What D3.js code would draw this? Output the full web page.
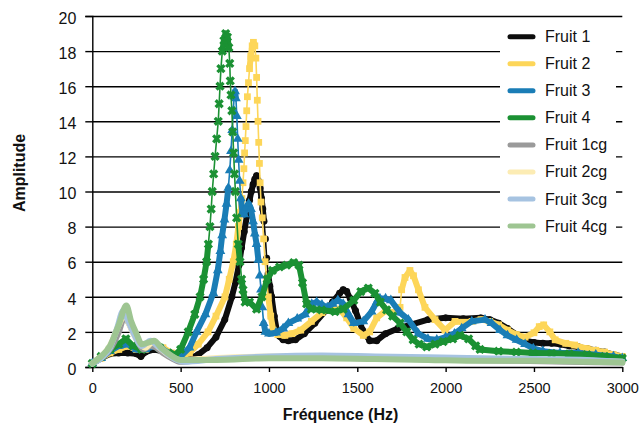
<!DOCTYPE html>
<html>
<head>
<meta charset="utf-8">
<script src="https://cdn.jsdelivr.net/npm/d3@7"></script>
<style>
  html, body { margin: 0; padding: 0; background: #fff; }
  svg { display: block; }
  text { font-family: "Liberation Sans", Arial, sans-serif; fill: #111; }
</style>
</head>
<body>
<svg id="chart" width="642" height="428"></svg>
<script>
// Frequency response amplitudes (Hz → amplitude)
const fruit1Hz  = [0,50,100,150,200,250,275,300,350,400,450,500,550,600,650,700,750,790,810,830,845,860,875,890,900,910,920,930,940,950,958,965,972,980,987,995,1005,1015,1030,1044,1060,1080,1110,1150,1200,1260,1320,1360,1400,1420,1440,1460,1490,1530,1570,1610,1660,1730,1800,1900,2000,2100,2200,2250,2300,2350,2400,2450,2500,2550,2600,2650,2700,2750,2800,2850,2900,2950,3000];
const fruit1Amp = [0.2,0.5,0.75,0.8,0.8,0.75,0.6,0.85,1.0,0.9,0.6,0.5,0.5,0.7,1.1,1.7,2.7,4.0,4.8,5.8,6.8,7.7,8.6,9.5,10.0,10.4,10.7,10.9,10.6,10.2,9.6,9.0,8.3,7.3,6.2,5.3,4.6,4.0,2.9,2.1,1.75,1.55,1.5,1.55,1.9,2.5,3.2,3.7,4.2,4.4,4.3,3.9,3.2,2.1,1.5,1.5,1.9,2.2,2.4,2.7,2.8,2.75,2.8,2.7,2.5,2.2,1.85,1.5,1.4,1.35,1.35,1.3,1.2,1.15,1.05,0.95,0.85,0.7,0.6];

const fruit2Hz  = [0,50,100,150,200,250,300,350,400,450,500,550,600,655,700,751,775,798,815,827,838,847,853,858,862,866,870,874,878,884,890,897,905,912,920,926,930,934,938,942,946,950,955,962,970,978,987,996,1010,1024,1050,1090,1130,1180,1240,1300,1350,1400,1440,1480,1534,1570,1610,1660,1700,1742,1751,1770,1798,1818,1846,1883,1940,1996,2053,2100,2150,2200,2250,2300,2350,2400,2450,2500,2530,2555,2590,2620,2680,2730,2800,2850,2900,2950,3000];
const fruit2Amp = [0.2,0.5,0.8,1.0,1.2,1.0,1.0,1.3,1.1,0.8,0.6,0.8,1.3,2.0,2.9,4.0,5.0,6.0,7.0,8.0,8.8,9.6,10.5,11.3,12.2,12.9,13.7,14.6,15.4,16.2,17.0,17.7,18.3,18.5,18.3,17.6,16.5,15.2,14.0,12.8,11.6,10.5,9.4,8.5,7.3,6.0,5.0,4.0,2.9,2.1,1.85,1.8,1.9,2.1,2.6,3.1,3.4,3.3,2.8,2.2,1.8,2.0,2.8,3.2,3.1,3.4,4.4,5.1,5.5,5.2,4.4,3.4,2.7,2.1,2.6,2.55,2.6,2.7,2.6,2.4,2.1,1.85,1.7,1.95,2.3,2.4,2.0,1.55,1.35,1.25,1.05,0.95,0.85,0.7,0.6];

const fruit3Hz  = [0,50,100,150,200,250,300,350,400,450,500,550,590,640,685,710,725,735,748,760,770,778,785,792,798,803,808,813,818,823,828,834,841,850,860,872,885,898,910,920,930,940,948,955,962,970,980,1000,1040,1080,1110,1160,1204,1242,1270,1300,1330,1360,1390,1420,1450,1480,1534,1581,1610,1628,1660,1690,1742,1789,1846,1900,1950,2000,2050,2091,2148,2223,2260,2308,2350,2402,2450,2496,2550,2647,2750,2850,2950,3000];
const fruit3Amp = [0.2,0.5,0.9,1.2,1.3,1.0,1.0,1.2,1.0,0.7,0.6,1.1,2.0,3.0,4.2,5.5,6.6,7.5,8.4,9.3,10.2,11.2,12.3,13.5,14.6,15.4,15.7,15.3,14.3,13.0,11.8,10.6,9.6,8.8,8.7,9.1,9.3,9.0,8.3,7.6,7.0,6.1,5.2,4.4,3.4,2.5,2.0,1.9,1.95,2.2,2.5,2.75,3.0,3.6,3.7,3.55,3.4,3.6,3.8,3.6,3.0,2.5,2.6,3.15,3.7,3.9,3.9,3.8,3.1,2.7,1.9,1.6,1.55,1.7,1.9,2.2,2.6,2.7,2.5,2.1,1.8,1.54,1.3,1.06,0.9,0.8,0.8,0.7,0.6,0.5];

const fruit4Hz  = [0,50,100,150,190,230,280,330,380,430,470,500,543,580,610,630,647,657,666,673,679,687,695,704,713,718,723,728,736,745,755,765,773,778,781,785,790,795,800,805,810,817,826,836,845,853,865,890,930,960,990,1020,1060,1100,1140,1170,1190,1213,1240,1298,1374,1420,1480,1520,1562,1600,1630,1666,1700,1742,1780,1816,1850,1893,1940,1986,2040,2081,2130,2170,2195,2300,2400,2495,2600,2700,2800,2900,3000];
const fruit4Amp = [0.2,0.6,1.0,1.3,1.6,1.2,1.0,1.3,1.1,0.8,0.7,1.0,2.0,3.0,4.0,5.0,6.0,7.0,8.0,9.0,10.0,11.0,12.0,13.0,14.0,15.0,16.0,17.0,18.0,18.6,19.0,18.8,18.2,17.3,16.3,15.5,14.6,13.4,12.2,11.0,10.0,8.5,7.0,6.0,5.0,4.4,3.7,3.7,3.3,4.0,5.0,5.5,5.7,5.8,5.95,5.8,4.8,3.6,3.3,3.25,3.15,3.3,3.8,4.3,4.5,4.2,3.7,3.25,2.9,2.5,2.0,1.55,1.3,1.15,1.3,1.45,1.6,1.8,1.6,1.2,1.0,0.9,0.85,0.8,0.78,0.75,0.7,0.6,0.5];

const fruit1cgHz  = [0,50,100,150,180,200,230,260,290,330,360,400,450,500,600,800,1000,1200,1500,1800,2100,2400,2700,3000];
const fruit1cgAmp = [0.2,0.5,1.0,2.0,2.8,2.6,2.0,1.4,1.0,1.2,1.1,0.8,0.5,0.3,0.4,0.5,0.55,0.55,0.5,0.45,0.4,0.35,0.3,0.25];

const fruit2cgHz  = [0,50,100,150,185,210,250,300,340,380,430,500,600,800,1000,1300,1600,1900,2200,2500,2800,3000];
const fruit2cgAmp = [0.2,0.6,1.2,2.4,3.0,2.4,1.6,1.1,1.4,1.1,0.7,0.4,0.45,0.55,0.6,0.6,0.55,0.5,0.45,0.4,0.35,0.3];

const fruit3cgHz  = [0,50,100,140,175,200,240,280,330,370,420,480,520,700,1000,1300,1600,1900,2200,2500,2800,3000];
const fruit3cgAmp = [0.2,0.5,1.1,2.2,3.2,2.7,1.8,1.2,1.5,1.2,0.8,0.4,0.3,0.45,0.6,0.65,0.6,0.55,0.5,0.45,0.4,0.3];

const fruit4cgHz  = [0,50,100,150,193,220,250,280,320,350,390,440,500,700,1000,1300,1600,1900,2200,2500,2800,3000];
const fruit4cgAmp = [0.2,0.6,1.2,2.4,3.5,2.6,1.9,1.3,1.4,1.5,1.1,0.7,0.4,0.4,0.5,0.5,0.45,0.4,0.35,0.35,0.3,0.25];

const seriesNames  = ["Fruit 1","Fruit 2","Fruit 3","Fruit 4","Fruit 1cg","Fruit 2cg","Fruit 3cg","Fruit 4cg"];
const seriesColors = ["#0d0d0d","#fdd659","#1a7db6","#1b9133","#9a9a9a","#fcecb4","#a6c3e1","#9ec592"];
const seriesMarkers = ["circle","square","triangle","x",null,null,null,null];

const xTicks = [0,500,1000,1500,2000,2500,3000];
const yTicks = [0,2,4,6,8,10,12,14,16,18,20];

const series = [
  [fruit1Hz, fruit1Amp], [fruit2Hz, fruit2Amp], [fruit3Hz, fruit3Amp], [fruit4Hz, fruit4Amp],
  [fruit1cgHz, fruit1cgAmp], [fruit2cgHz, fruit2cgAmp], [fruit3cgHz, fruit3cgAmp], [fruit4cgHz, fruit4cgAmp]
].map(([hz, amp], i) => ({
  name: seriesNames[i], color: seriesColors[i], marker: seriesMarkers[i],
  points: hz.map((f, k) => ({ f, a: amp[k] }))
}));

const svg = d3.select("#chart");
const plotLeft = 92.3, plotRight = 622.3, plotTop = 16, plotBottom = 367;

const x = d3.scaleLinear().domain([0, 3000]).range([plotLeft, plotRight]);
const y = d3.scaleLinear().domain([0, 20]).range([plotBottom, plotTop]);

// horizontal grid
svg.append("g")
  .attr("transform", `translate(${plotLeft},0)`)
  .call(d3.axisLeft(y).tickValues(yTicks.filter(v => v > 0)).tickSize(-(plotRight - plotLeft)).tickFormat(""))
  .call(g => g.select(".domain").remove())
  .call(g => g.selectAll("line").attr("stroke", "#000").attr("stroke-width", 1.4));

// legend background interrupts the grid
svg.append("rect").attr("x", 500).attr("y", 21).attr("width", 116).attr("height", 221).attr("fill", "#fff");

// y axis
svg.append("g")
  .attr("transform", `translate(${plotLeft},0)`)
  .call(d3.axisLeft(y).tickValues(yTicks).tickSize(7).tickPadding(9))
  .call(g => g.select(".domain").attr("stroke", "#000").attr("stroke-width", 1.4))
  .call(g => g.selectAll("line").attr("stroke", "#000").attr("stroke-width", 1.4))
  .call(g => g.selectAll("text").attr("font-size", 16).attr("fill", "#111").attr("dy", "0.45em")
    .style("font-family", '"Liberation Sans", Arial, sans-serif'));

// x axis
svg.append("g")
  .attr("transform", `translate(0,${plotBottom})`)
  .call(d3.axisBottom(x).tickValues(xTicks).tickFormat(d3.format("d")).tickSize(5).tickPadding(11).tickSizeOuter(0))
  .call(g => g.select(".domain").attr("stroke", "#000").attr("stroke-width", 1.4))
  .call(g => g.selectAll("line").attr("stroke", "#000").attr("stroke-width", 1.4))
  .call(g => g.selectAll("text").attr("font-size", 14.5).attr("fill", "#111")
    .style("font-family", '"Liberation Sans", Arial, sans-serif'));

// axis titles
svg.append("text")
  .attr("x", 340.5).attr("y", 420)
  .attr("text-anchor", "middle").attr("font-size", 16).attr("font-weight", "bold")
  .text("Fréquence (Hz)");
svg.append("text")
  .attr("transform", "translate(25,173) rotate(-90)")
  .attr("text-anchor", "middle").attr("font-size", 16).attr("font-weight", "bold")
  .text("Amplitude");

// curves: a thin connecting line, a heavy trace where the curve is shallow
// (dense samples merge there), and a marker at each sample
const line = d3.line().x(d => x(d.f)).y(d => y(d.a));

const markerPath = {
  circle: d3.symbol().type(d3.symbolCircle).size(38)(),
  square: d3.symbol().type(d3.symbolSquare).size(46)(),
  triangle: d3.symbol().type(d3.symbolTriangle).size(42)(),
  x: d3.symbol().type(d3.symbolCross).size(54)()
};

series.forEach(s => {
  const g = svg.append("g");
  if (!s.marker) {
    g.append("path")
      .attr("d", d3.line().x(d => x(d.f)).y(d => y(d.a)).curve(d3.curveMonotoneX)(s.points))
      .attr("fill", "none")
      .attr("stroke", s.color)
      .attr("stroke-width", 6)
      .attr("stroke-linejoin", "round")
      .attr("stroke-linecap", "round");
    return;
  }
  g.append("path")
    .attr("d", line(s.points))
    .attr("fill", "none")
    .attr("stroke", s.color)
    .attr("stroke-width", 1.6)
    .attr("stroke-linejoin", "round");
  const segs = d3.pairs(s.points).filter(([p, q]) => {
    const dx = Math.abs(x(q.f) - x(p.f)), dy = Math.abs(y(q.a) - y(p.a));
    return dy <= 10 * dx;
  });
  g.selectAll("path.seg").data(segs).join("path")
    .attr("class", "seg")
    .attr("d", d => line(d))
    .attr("fill", "none")
    .attr("stroke", s.color)
    .attr("stroke-width", 6)
    .attr("stroke-linecap", "round");
  g.selectAll("path.m").data(s.points).join("path")
    .attr("class", "m")
    .attr("d", markerPath[s.marker])
    .attr("transform", d => `translate(${x(d.f)},${y(d.a)})` + (s.marker === "x" ? " rotate(45)" : ""))
    .attr("fill", s.color);
});

// legend
const legend = svg.append("g");
series.forEach((s, i) => {
  const ly = 36.7 + i * 27.05;
  legend.append("line")
    .attr("x1", 510).attr("x2", 533).attr("y1", ly).attr("y2", ly)
    .attr("stroke", s.color).attr("stroke-width", 5).attr("stroke-linecap", "round");
  legend.append("text")
    .attr("x", 545).attr("y", ly + 5.5)
    .attr("font-size", 16)
    .text(s.name);
});
</script>
</body>
</html>
